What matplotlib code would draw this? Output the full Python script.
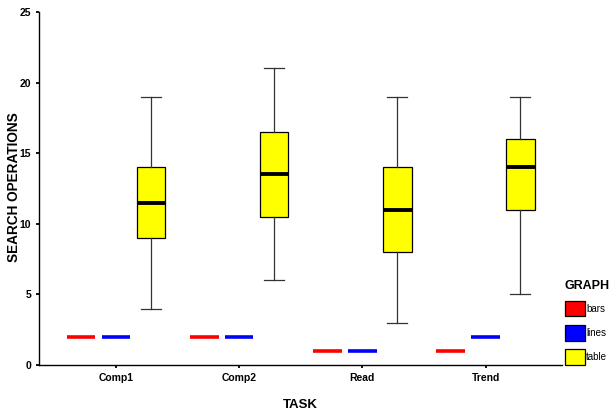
import matplotlib
matplotlib.use("Agg")
import matplotlib.pyplot as plt
from matplotlib.patches import Patch
from matplotlib import font_manager

fams = {f.name for f in font_manager.fontManager.ttflist}
base = "Liberation Sans Narrow" if "Liberation Sans Narrow" in fams else "Liberation Sans"
plt.rcParams['font.family'] = [base, 'DejaVu Sans']

tasks = ["Comp1", "Comp2", "Read", "Trend"]
graphs = ["bars", "lines", "table"]
colors = {"bars": "#FF0000", "lines": "#0000FF", "table": "#FFFF00"}

bars_vals = [2, 2, 1, 1]
lines_vals = [2, 2, 1, 2]
table_low = [4, 6, 3, 5]
table_q1 = [9, 10.5, 8, 11]
table_med = [11.5, 13.5, 11, 14]
table_q3 = [14, 16.5, 14, 16]
table_high = [19, 21, 19, 19]

fig = plt.figure(figsize=(6.09, 4.17), dpi=100)
ax = fig.add_axes([39/609, 1-365/417, (562-39)/609, (365-12)/417])

pos = list(range(1, len(tasks)+1))
off = 0.283
w = 0.232

for i, p in enumerate(pos):
    ax.hlines(bars_vals[i], p - off - w/2, p - off + w/2, color=colors["bars"], lw=2.6, zorder=3)
    ax.hlines(lines_vals[i], p - w/2, p + w/2, color=colors["lines"], lw=2.6, zorder=3)

stats = []
for i in range(len(tasks)):
    stats.append(dict(med=table_med[i], q1=table_q1[i], q3=table_q3[i],
                      whislo=table_low[i], whishi=table_high[i], fliers=[]))
ax.bxp(stats, positions=[p + off for p in pos], widths=w, patch_artist=True,
       showfliers=False,
       boxprops=dict(facecolor=colors["table"], edgecolor="black", linewidth=0.9),
       medianprops=dict(color="black", linewidth=2.8),
       whiskerprops=dict(color="#333333", linewidth=0.9),
       capprops=dict(color="#333333", linewidth=0.9), capwidths=w*0.7)

ax.set_xlim(0.375, 4.62)
ax.set_ylim(0, 25)
ax.set_xticks(pos)
ax.set_xticklabels(tasks)
ax.set_yticks([0, 5, 10, 15, 20, 25])
for s in ["top", "right"]:
    ax.spines[s].set_visible(False)
for s in ["left", "bottom"]:
    ax.spines[s].set_linewidth(1.0)
    ax.spines[s].set_color("black")
ax.tick_params(axis="both", length=2.5, width=1.3, labelsize=7.5, colors="black", pad=3)
for lab in ax.get_xticklabels() + ax.get_yticklabels():
    lab.set_fontweight("semibold")

fig.text(14/609, 1-187/417, "SEARCH OPERATIONS", rotation=90, ha="center", va="center",
         fontsize=9.8, fontweight="bold", family=["Liberation Sans", "DejaVu Sans"])
fig.text(300/609, 1-405/417, "TASK", ha="center", va="center",
         fontsize=9.5, fontweight="bold", family=["Liberation Sans", "DejaVu Sans"])

handles = [Patch(facecolor=colors[g], edgecolor="black", linewidth=0.9) for g in graphs]
leg = fig.legend(handles, graphs, loc="upper left", bbox_to_anchor=(563/609, 1-278/417),
                 frameon=False, fontsize=7, title="GRAPH", handlelength=2.05, handleheight=2.1,
                 handletextpad=0.15, labelspacing=0.9, borderaxespad=0, borderpad=0.2)
leg.get_title().set_fontweight("bold")
leg.get_title().set_fontsize(9)
leg._legend_box.align = "left"

fig.savefig("out.png", dpi=100)
